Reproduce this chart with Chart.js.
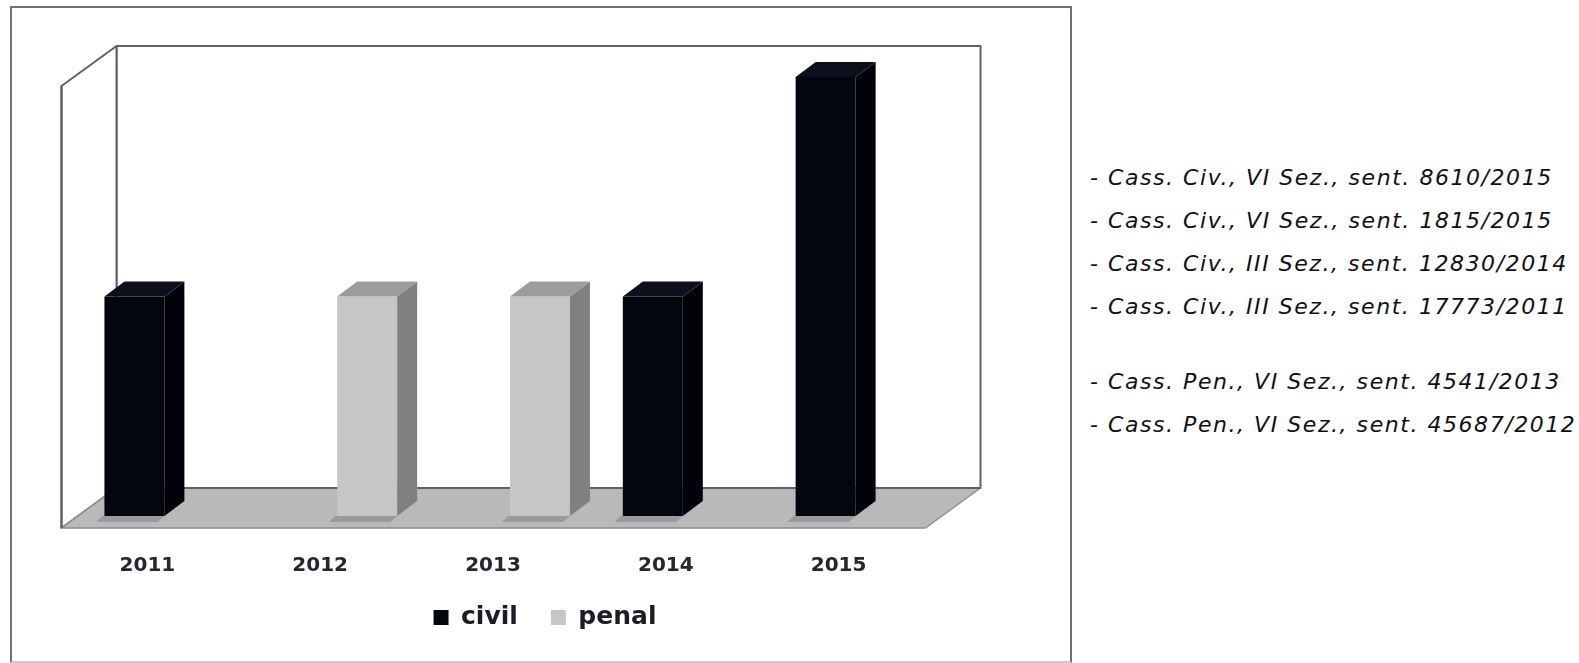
<!DOCTYPE html>
<html>
<head>
<meta charset="utf-8">
<script src="https://cdn.jsdelivr.net/npm/chart.js@4.4.0/dist/chart.umd.min.js"></script>
<style>
html,body{margin:0;padding:0;background:#fff;width:1579px;height:663px;overflow:hidden;}
#frame{position:absolute;left:10px;top:6px;width:1062px;height:657px;border:2px solid #6f7079;border-bottom-color:#c9c9cf;box-sizing:border-box;}
#chartCanvas{position:absolute;left:0;top:0;}
#notes{position:absolute;left:1090px;top:156px;font-family:"DejaVu Sans",sans-serif;font-style:oblique;font-size:22px;letter-spacing:1.55px;color:#101014;white-space:pre;}
#notes div{height:43px;line-height:43px;}
#notes div.gap{height:32px;}
</style>
</head>
<body>
<div id="frame"></div>
<canvas id="chartCanvas" width="1090" height="663"></canvas>
<div id="notes"></div>
<script>
const categories = ['2011', '2012', '2013', '2014', '2015'];
const civilValues = [1, 0, 0, 1, 2];
const penalValues = [0, 1, 1, 0, 0];
const seriesNames = ['civil', 'penal'];
const civilNotes = [
  '- Cass. Civ., VI Sez., sent. 8610/2015',
  '- Cass. Civ., VI Sez., sent. 1815/2015',
  '- Cass. Civ., III Sez., sent. 12830/2014',
  '- Cass. Civ., III Sez., sent. 17773/2011'
];
const penalNotes = [
  '- Cass. Pen., VI Sez., sent. 4541/2013',
  '- Cass. Pen., VI Sez., sent. 45687/2012'
];

// right-side notes as real text
const notesEl = document.getElementById('notes');
civilNotes.forEach(t => { const d = document.createElement('div'); d.textContent = t; notesEl.appendChild(d); });
const gap = document.createElement('div'); gap.className = 'gap'; notesEl.appendChild(gap);
penalNotes.forEach(t => { const d = document.createElement('div'); d.textContent = t; notesEl.appendChild(d); });

const faceColors = [
  {front: '#03050f', side: '#01020a', top: '#0d0f1d'},
  {front: '#c6c6c6', side: '#808080', top: '#9c9c9c'}
];

const walls3d = {
  id: 'walls3d',
  beforeDatasetsDraw(chart) {
    const {ctx, chartArea: a} = chart;
    const base = chart.scales.y.getPixelForValue(0);
    const fL = a.left - 16.5, fR = a.right - 16.5, fy = base + 12;
    const bL = a.left + 38.5, bR = a.right + 38.5, by = base - 28;
    const top = a.top - 31;
    const ftop = top + 40;
    ctx.save();
    ctx.lineJoin = 'round';
    // back wall
    ctx.fillStyle = '#ffffff';
    ctx.strokeStyle = '#5f606a';
    ctx.lineWidth = 2;
    ctx.beginPath(); ctx.rect(bL, top, bR - bL, by - top); ctx.fill(); ctx.stroke();
    // left wall
    ctx.beginPath();
    ctx.moveTo(fL, ftop); ctx.lineTo(bL, top); ctx.lineTo(bL, by); ctx.lineTo(fL, fy); ctx.closePath();
    ctx.fill(); ctx.stroke();
    // floor
    ctx.fillStyle = '#b9b9b9';
    ctx.strokeStyle = '#8e8e94';
    ctx.lineWidth = 1.5;
    ctx.beginPath();
    ctx.moveTo(fL, fy); ctx.lineTo(fR, fy); ctx.lineTo(bR, by); ctx.lineTo(bL, by); ctx.closePath();
    ctx.fill(); ctx.stroke();
    ctx.strokeStyle = '#5f606a'; ctx.lineWidth = 2;
    ctx.beginPath(); ctx.moveTo(bL, by); ctx.lineTo(bR, by); ctx.stroke();
    ctx.beginPath(); ctx.moveTo(fL, ftop); ctx.lineTo(fL, fy); ctx.stroke();
    // bar shadows
    chart.data.datasets.forEach((ds, i) => {
      const meta = chart.getDatasetMeta(i);
      meta.data.forEach((bar, j) => {
        if (!ds.data[j]) return;
        const p = bar.getProps(['x', 'width', 'base'], true);
        const l = p.x - p.width / 2;
        ctx.fillStyle = '#9a9a9c';
        ctx.beginPath();
        ctx.moveTo(l - 2, p.base); ctx.lineTo(l + p.width, p.base);
        ctx.lineTo(l + p.width - 7, p.base + 6); ctx.lineTo(l - 8, p.base + 6); ctx.closePath();
        ctx.fill();
      });
    });
    ctx.restore();
  },
  afterDatasetsDraw(chart) {
    const {ctx} = chart;
    const d = 20, e = 15;
    ctx.save();
    chart.data.datasets.forEach((ds, i) => {
      const meta = chart.getDatasetMeta(i);
      const c = faceColors[i];
      meta.data.forEach((bar, j) => {
        if (!ds.data[j]) return;
        const p = bar.getProps(['x', 'y', 'base', 'width'], true);
        const l = p.x - p.width / 2, r = p.x + p.width / 2;
        ctx.fillStyle = c.side;
        ctx.beginPath();
        ctx.moveTo(r, p.y); ctx.lineTo(r + d, p.y - e); ctx.lineTo(r + d, p.base - e); ctx.lineTo(r, p.base); ctx.closePath();
        ctx.fill();
        ctx.fillStyle = c.top;
        ctx.beginPath();
        ctx.moveTo(l, p.y); ctx.lineTo(l + d, p.y - e); ctx.lineTo(r + d, p.y - e); ctx.lineTo(r, p.y); ctx.closePath();
        ctx.fill();
      });
    });
    ctx.restore();
  }
};

new Chart(document.getElementById('chartCanvas'), {
  type: 'bar',
  data: {
    labels: categories,
    datasets: [
      {label: seriesNames[0], data: civilValues, backgroundColor: faceColors[0].front, borderWidth: 0},
      {label: seriesNames[1], data: penalValues, backgroundColor: faceColors[1].front, borderWidth: 0}
    ]
  },
  options: {
    responsive: false,
    animation: false,
    categoryPercentage: 0.694,
    barPercentage: 1.0,
    layout: {padding: {top: 77, bottom: 23, left: 0, right: 0}},
    scales: {
      x: {
        grid: {display: false, drawTicks: false},
        border: {display: false},
        ticks: {
          font: {family: 'DejaVu Sans', weight: 'bold', size: 20},
          color: '#26262c', padding: 38, labelOffset: -17, autoSkip: false, maxRotation: 0
        },
        afterFit(s) { s.height = 56; }
      },
      y: {
        min: 0, max: 2,
        ticks: {display: false},
        grid: {display: false},
        border: {display: false},
        afterFit(s) { s.width = 78; }
      },
      y2: {
        position: 'right',
        ticks: {display: false},
        grid: {display: false},
        border: {display: false},
        afterFit(s) { s.width = 148; }
      }
    },
    plugins: {
      tooltip: {enabled: false},
      legend: {
        position: 'bottom',
        labels: {
          boxWidth: 15, boxHeight: 15, padding: 33, color: '#1c1c24',
          font: {family: 'DejaVu Sans', weight: 'bold', size: 25}
        }
      }
    }
  },
  plugins: [walls3d]
});
</script>
</body>
</html>
